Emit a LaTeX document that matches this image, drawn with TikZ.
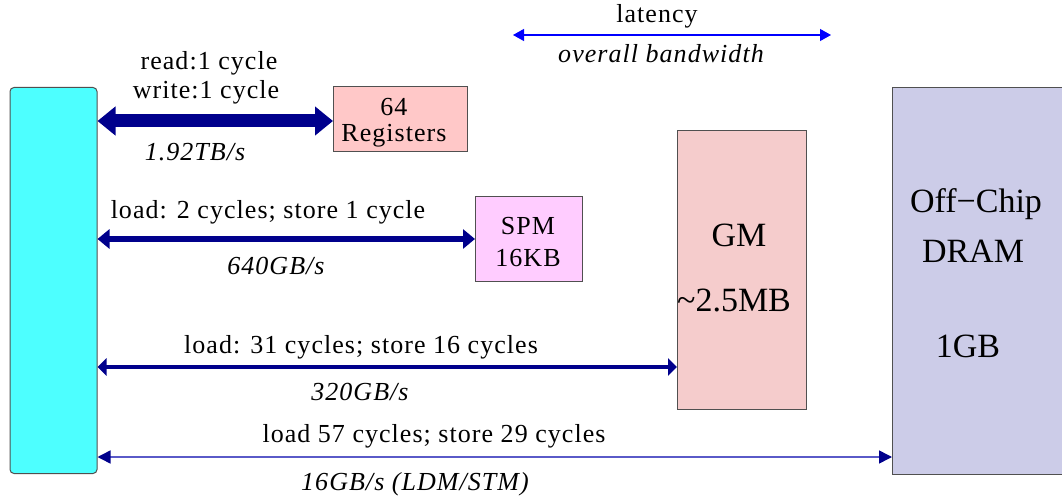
\documentclass[tikz,border=0pt]{standalone}
\usepackage{fontspec}
\setmainfont{Liberation Serif}
\newfontfamily\labfont[LetterSpace=4]{Liberation Serif}
\usetikzlibrary{arrows.meta}
\definecolor{cpucyan}{RGB}{77,255,255}
\definecolor{regpink}{RGB}{255,200,200}
\definecolor{spmpink}{RGB}{255,204,255}
\definecolor{gmpink}{RGB}{245,204,204}
\definecolor{drampurple}{RGB}{204,204,232}
\definecolor{navy}{RGB}{0,0,140}
\definecolor{busblue}{RGB}{90,90,200}
\definecolor{edgegray}{RGB}{80,80,80}
\begin{document}
\begin{tikzpicture}[x=1pt,y=-1pt,
  box/.style={draw=edgegray, line width=1pt, inner sep=0pt, anchor=north west},
  lab/.style={font=\labfont\fontsize{26}{29}\selectfont, inner sep=0pt, anchor=base},
  rate/.style={font=\labfont\itshape\fontsize{26}{29}\selectfont, inner sep=0pt, anchor=base},
  big/.style={font=\fontsize{34}{40}\selectfont, inner sep=0pt, anchor=base},
  busA/.style={draw=navy, line width=13pt, {Triangle[length=18pt,width=28pt]}-{Triangle[length=18pt,width=28pt]}},
  busB/.style={draw=navy, line width=6pt, {Triangle[length=12pt,width=19pt]}-{Triangle[length=12pt,width=19pt]}},
  busC/.style={draw=navy, line width=3.5pt, {Triangle[length=9pt,width=17pt]}-{Triangle[length=9pt,width=17pt]}},
  busD/.style={draw=busblue, line width=1.5pt, {Triangle[length=13pt,width=13pt,color=navy]}-{Triangle[length=13pt,width=13pt,color=navy]}},
  legend/.style={draw=blue, line width=1.2pt, {Triangle[length=11pt,width=12pt]}-{Triangle[length=11pt,width=12pt]}},
]
\clip (0,0) rectangle (1062,500);

% memory blocks
\node[box, fill=cpucyan, rounded corners=4pt, minimum width=87pt, minimum height=386pt] (cpu) at (9.5,87) {};
\node[box, fill=regpink, minimum width=134pt, minimum height=65pt] (reg) at (333,86) {};
\node[box, fill=spmpink, minimum width=107pt, minimum height=85pt] (spm) at (475,196) {};
\node[box, fill=gmpink, minimum width=129pt, minimum height=279pt] (gm) at (677,130) {};
\node[box, fill=drampurple, minimum width=180pt, minimum height=387pt] (dram) at (892,87) {};

% block contents
\node[lab] (regA) at (394,116) {64};
\node[lab] (regB) at (394,142) {Registers};
\node[lab] (spmA) at (528,234) {SPM};
\node[lab] (spmB) at (528,266) {16KB};
\node[big] (gmA) at (739,246) {GM};
\node[big] (gmB) at (734,311) {\textasciitilde2.5MB};
\node[big] (dramA) at (976,212) {Off−Chip};
\node[big] (dramB) at (973,262) {DRAM};
\node[big] (dramC) at (968,357) {1GB};

% buses
\draw[busA] (cpu.east |- 0,121) -- (reg.west |- 0,121);
\draw[busB] (cpu.east |- spm.west) -- (spm.west);
\draw[busC] (cpu.east |- 0,367) -- (gm.west |- 0,367);
\draw[busD] (cpu.east |- 0,457) -- (dram.west |- 0,457);

% bus annotations
\node[lab] (l1a) at (209,70) {read:1 cycle};
\node[lab] (l1b) at (206,99) {write:1 cycle};
\node[rate] (r1) at (195,160) {1.92TB/s};
\node[lab] (l2) at (268,218) {load: 2 cycles; store 1 cycle};
\node[rate] (r2) at (276,274) {640GB/s};
\node[lab] (l3) at (361,353) {load: 31 cycles; store 16 cycles};
\node[rate] (r3) at (360,400) {320GB/s};
\node[lab] (l4) at (434,442) {load 57 cycles; store 29 cycles};
\node[rate] (r4) at (415,490) {16GB/s (LDM/STM)};

% key
\coordinate (keyL) at (513,35);
\coordinate (keyR) at (831,35);
\draw[legend] (keyL) -- (keyR);
\node[lab] (keyA) at (657,23) {latency};
\node[rate] (keyB) at (661,63) {overall bandwidth};
\end{tikzpicture}
\end{document}
